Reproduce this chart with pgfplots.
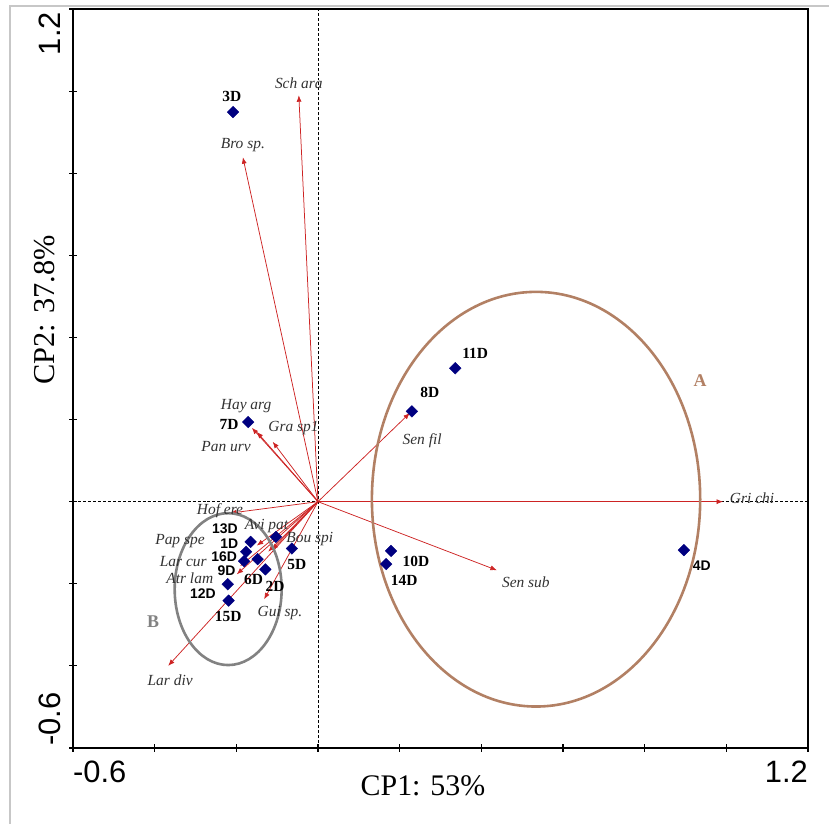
\documentclass[border=0pt]{standalone}
\usepackage{fontspec}
\setmainfont{Liberation Serif}
\newfontfamily\arial{Liberation Sans}
\usepackage{pgfplots}
\usepackage{pgfplotstable}
\pgfplotsset{compat=1.18}
\usetikzlibrary{arrows.meta}

\definecolor{vecred}{RGB}{205,35,35}
\definecolor{sitenavy}{RGB}{0,0,128}
\definecolor{grpA}{RGB}{178,128,100}
\definecolor{grpB}{RGB}{130,130,130}
\definecolor{sptext}{RGB}{50,50,50}

\tikzset{
  vec/.style={color=vecred, line width=0.75bp, mark=none,
    -{Latex[length=6.5bp,width=5bp]}},
  sp/.style={font=\fontsize{15.5}{15.5}\selectfont\itshape, text=sptext, inner sep=0pt},
  lbs/.style={font=\fontsize{15.5}{15.5}\selectfont\bfseries, inner sep=0pt},
  lba/.style={font=\fontsize{14}{14}\selectfont\arial\bfseries, inner sep=0pt},
}

% site scores (CP1, CP2)
\pgfplotstableread{
site x y
1D  -0.165 -0.098
2D  -0.129 -0.165
3D  -0.208  0.949
4D   0.896 -0.118
5D  -0.064 -0.114
6D  -0.148 -0.140
7D  -0.171  0.194
8D   0.230  0.220
9D  -0.181 -0.145
10D  0.179 -0.120
11D  0.336  0.325
12D -0.221 -0.201
13D -0.103 -0.086
14D  0.167 -0.152
15D -0.219 -0.241
16D -0.176 -0.122
}\sites

\begin{document}
\begin{tikzpicture}
\useasboundingbox (-73bp,-76bp) rectangle (756bp,748bp);
\draw[black!22, line width=2bp] (-63bp,-76bp) -- (-63bp,742bp) -- (756bp,742bp);

\begin{axis}[
  scale only axis, width=735bp, height=739bp,
  xmin=-0.6, xmax=1.2, ymin=-0.6, ymax=1.2,
  xtick={-0.6,-0.4,-0.2,0,0.2,0.4,0.6,0.8,1.0,1.2},
  ytick={-0.6,-0.4,-0.2,0,0.2,0.4,0.6,0.8,1.0,1.2},
  xticklabels={}, yticklabels={},
  xtick pos=bottom, ytick pos=left,
  tick align=center, major tick length=8bp,
  tick style={black, line width=1.2bp},
  axis line style={line width=2bp},
  clip=false,
]
% zero reference lines
\addplot[black, line width=0.6bp, densely dashed, mark=none] coordinates {(-0.6,0) (1.2,0)};
\addplot[black, line width=0.6bp, densely dashed, mark=none] coordinates {(0,-0.6) (0,1.2)};

% species vectors
\addplot[vec] coordinates {(0,0) (-0.047,0.990)};  % Sch ara
\addplot[vec] coordinates {(0,0) (-0.184,0.839)};  % Bro sp.
\addplot[vec] coordinates {(0,0) (-0.162,0.180)};  % Hay arg
\addplot[vec] coordinates {(0,0) (-0.150,0.170)};  % Pan urv
\addplot[vec] coordinates {(0,0) (-0.111,0.146)};  % Gra sp1
\addplot[vec] coordinates {(0,0) (-0.216,-0.028)}; % Hof ere
\addplot[vec] coordinates {(0,0) (-0.150,-0.107)}; % Pap spe
\addplot[vec] coordinates {(0,0) (-0.113,-0.118)}; % Avi pat
\addplot[vec] coordinates {(0,0) (-0.122,-0.122)}; % Bou spi
\addplot[vec] coordinates {(0,0) (-0.191,-0.157)}; % Lar cur
\addplot[vec] coordinates {(0,0) (-0.199,-0.177)}; % Atr lam
\addplot[vec] coordinates {(0,0) (-0.132,-0.238)}; % Gui sp.
\addplot[vec] coordinates {(0,0) (-0.367,-0.400)}; % Lar div
\addplot[vec] coordinates {(0,0) (0.225,0.216)};   % Sen fil
\addplot[vec] coordinates {(0,0) (0.438,-0.167)};  % Sen sub
\addplot[vec] coordinates {(0,0) (0.992,0.000)};   % Gri chi

% groups
\draw[grpA, line width=2.6bp] (axis cs:0.534,0.006) ellipse [x radius=0.402, y radius=0.505];
\draw[grpB, line width=2.6bp] (axis cs:-0.220,-0.213) ellipse [x radius=0.131, y radius=0.185];
\node[font=\fontsize{18}{18}\selectfont\bfseries, text=grpA] at (axis cs:0.936,0.294) {A};
\node[font=\fontsize{18}{18}\selectfont\bfseries, text=grpB] at (axis cs:-0.404,-0.293) {B};

% sites
\addplot[only marks, mark=square*, mark size=4.1bp, mark options={rotate=45, fill=sitenavy, draw=sitenavy}]
  table[x=x, y=y] {\sites};

% species names
\node[sp] at (axis cs:-0.047,1.019) {Sch ara};
\node[sp] at (axis cs:-0.184,0.868) {Bro sp.};
\node[sp] at (axis cs:-0.176,0.233) {Hay arg};
\node[sp] at (axis cs:-0.060,0.179) {Gra sp1};
\node[sp] at (axis cs:-0.225,0.134) {Pan urv};
\node[sp] at (axis cs:-0.240,-0.023) {Hof ere};
\node[sp] at (axis cs:-0.126,-0.059) {Avi pat};
\node[sp] at (axis cs:-0.338,-0.096) {Pap spe};
\node[sp] at (axis cs:-0.020,-0.091) {Bou spi};
\node[sp] at (axis cs:-0.330,-0.145) {Lar cur};
\node[sp] at (axis cs:-0.314,-0.186) {Atr lam};
\node[sp] at (axis cs:-0.093,-0.271) {Gui sp.};
\node[sp] at (axis cs:-0.362,-0.434) {Lar div};
\node[sp] at (axis cs:0.255,0.148) {Sen fil};
\node[sp] at (axis cs:0.509,-0.196) {Sen sub};
\node[sp] at (axis cs:1.063,0.009) {Gri chi};

% site names
\node[lbs] at (axis cs:-0.211,0.988) {3D};
\node[lbs] at (axis cs:-0.218,0.189) {7D};
\node[lbs] at (axis cs:0.274,0.265) {8D};
\node[lbs] at (axis cs:0.385,0.362) {11D};
\node[lbs] at (axis cs:0.240,-0.145) {10D};
\node[lbs] at (axis cs:0.211,-0.191) {14D};
\node[lba] at (axis cs:0.940,-0.157) {4D};
\node[lba] at (axis cs:-0.228,-0.067) {13D};
\node[lba] at (axis cs:-0.217,-0.103) {1D};
\node[lba] at (axis cs:-0.230,-0.135) {16D};
\node[lba] at (axis cs:-0.224,-0.168) {9D};
\node[lba] at (axis cs:-0.282,-0.223) {12D};
\node[lbs] at (axis cs:-0.220,-0.280) {15D};
\node[lbs] at (axis cs:-0.158,-0.189) {6D};
\node[lbs] at (axis cs:-0.105,-0.207) {2D};
\node[lbs] at (axis cs:-0.052,-0.154) {5D};
\end{axis}

% end-of-range tick numbers and axis titles
\begin{scope}[every node/.style={inner sep=0pt, font=\fontsize{31}{31}\selectfont\arial}]
\node[anchor=west] at (0bp,-24bp) {-0.6};
\node[anchor=east] at (735bp,-24bp) {1.2};
\node[rotate=90, anchor=east] at (-23bp,736bp) {1.2};
\node[rotate=90, anchor=west] at (-23bp,2bp) {-0.6};
\end{scope}
\node[inner sep=0pt, font=\fontsize{30}{30}\selectfont] at (350bp,-38bp) {CP1: 53\%};
\node[inner sep=0pt, rotate=90, font=\fontsize{30.5}{30.5}\selectfont] at (-28bp,438bp) {CP2: 37.8\%};
\end{tikzpicture}
\end{document}
